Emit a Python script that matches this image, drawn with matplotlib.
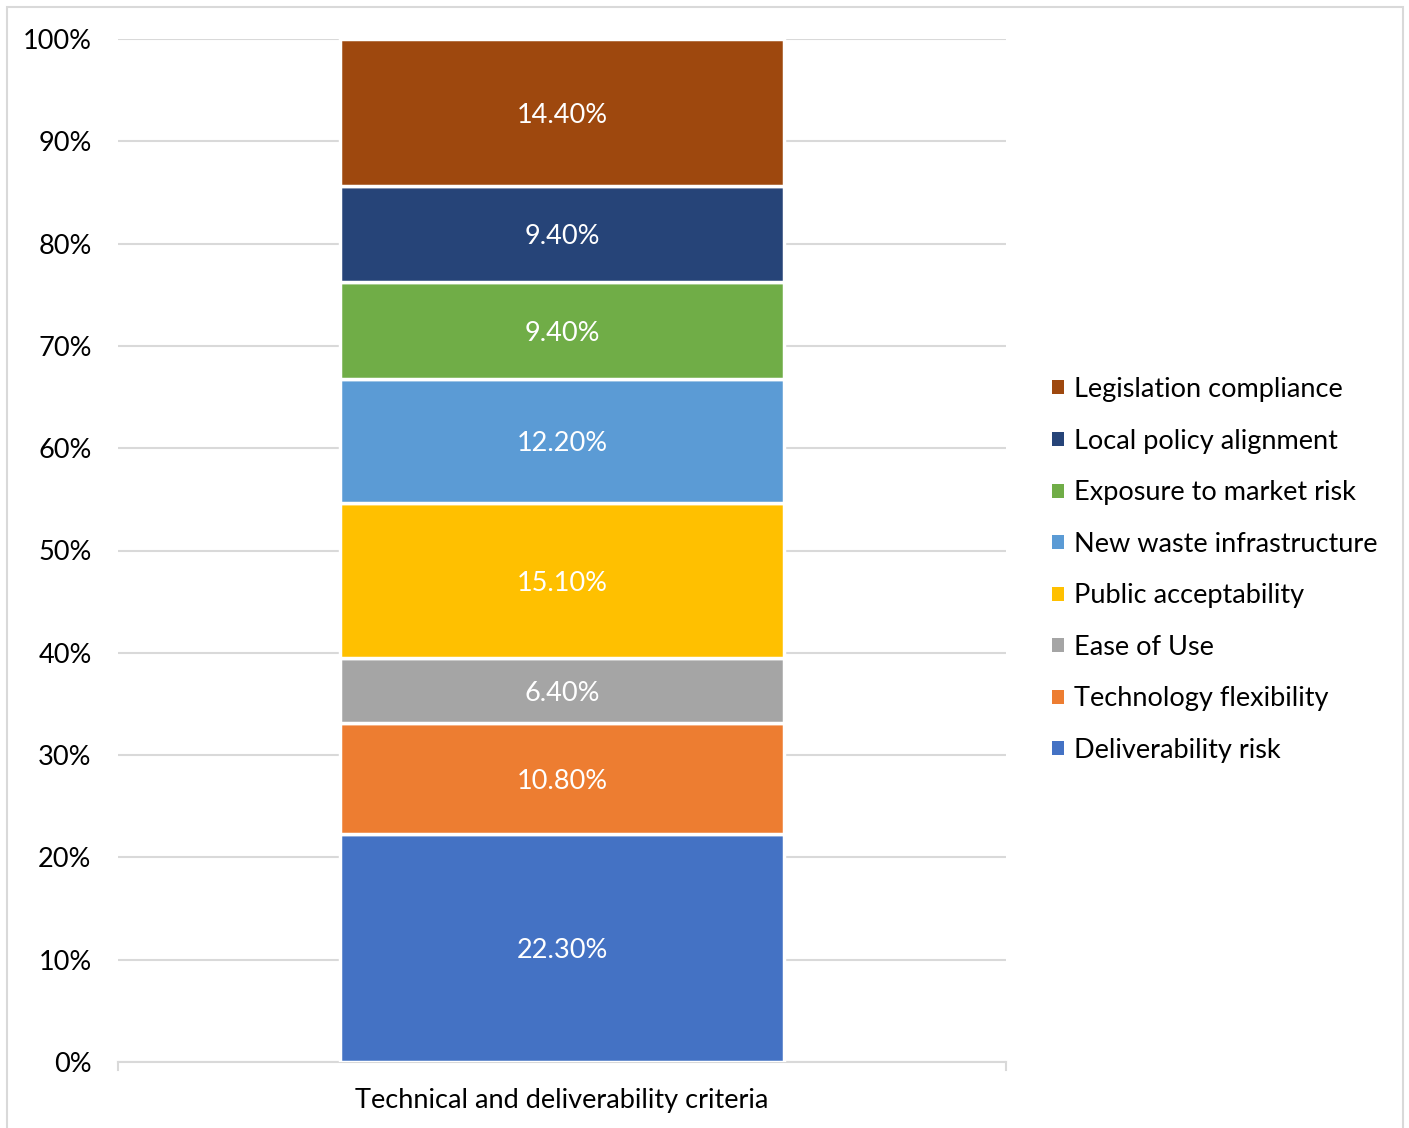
import matplotlib.pyplot as plt
from matplotlib.patches import Rectangle, Patch
from matplotlib.ticker import PercentFormatter

plt.rcParams['font.family'] = ['Lato', 'DejaVu Sans']

category = "Technical and deliverability criteria"
series = [
    "Deliverability risk",
    "Technology flexibility",
    "Ease of Use",
    "Public acceptability",
    "New waste infrastructure",
    "Exposure to market risk",
    "Local policy alignment",
    "Legislation compliance",
]
values = [22.3, 10.8, 6.4, 15.1, 12.2, 9.4, 9.4, 14.4]
colors = ["#4472C4", "#ED7D31", "#A5A5A5", "#FFC000",
          "#5B9BD5", "#70AD47", "#264478", "#9E480E"]
yticks = [0, 10, 20, 30, 40, 50, 60, 70, 80, 90, 100]

FS = 19.5

fig = plt.figure(figsize=(14.09, 11.28), dpi=100)
fig.patches.append(Rectangle((7 / 1409, -0.05), 1396 / 1409, 1.05 - 7 / 1128,
                             transform=fig.transFigure, fill=False,
                             edgecolor="#d9d9d9", linewidth=1.5, zorder=0))

ax = fig.add_axes([118 / 1409, 1 - 1062 / 1128, 888 / 1409, 1023 / 1128])

total = sum(values)
bottom = 0.0
for name, v, c in zip(series, values, colors):
    share = v / total * 100
    ax.bar(0, share, width=0.5, bottom=bottom, color=c, edgecolor="white",
           linewidth=2.5, label=name, zorder=3)
    ax.text(0, bottom + share / 2, f"{v:.2f}%", ha="center",
            va="center_baseline", color="white", fontsize=FS, zorder=4)
    bottom += share

ax.set_xlim(-0.5, 0.5)
ax.set_ylim(0, 100)
ax.set_yticks(yticks)
ax.yaxis.set_major_formatter(PercentFormatter(decimals=0))
ax.set_xticks([0])
ax.set_xticklabels([category])
ax.tick_params(axis="y", length=0, pad=19, labelsize=FS, labelcolor="black")
ax.tick_params(axis="x", length=0, pad=19, labelsize=FS, labelcolor="black")
ax.grid(axis="y", color="#d9d9d9", linewidth=1.5, zorder=0)
for s in ["top", "right", "left"]:
    ax.spines[s].set_visible(False)
ax.spines["bottom"].set_color("#d9d9d9")
ax.spines["bottom"].set_linewidth(1.5)
# end ticks on the category axis
for x in (-0.5, 0.5):
    ax.plot([x, x], [0, -0.8], color="#d9d9d9", linewidth=1.5,
            clip_on=False, zorder=1)

handles = [Patch(facecolor=c, edgecolor="none") for c in colors][::-1]
leg = fig.legend(handles, series[::-1], loc="center left",
                 bbox_to_anchor=(1028 / 1409, 1 - 570 / 1128),
                 frameon=False, fontsize=FS, handlelength=0.42,
                 handleheight=0.42, handletextpad=0.38, labelspacing=0.98)

fig.savefig("out.png", dpi=100, facecolor="white")
